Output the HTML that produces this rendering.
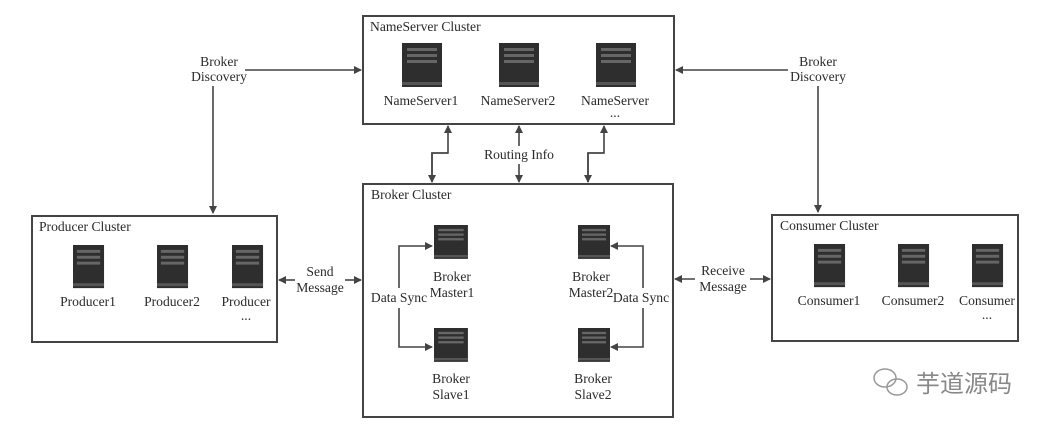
<!DOCTYPE html>
<html><head><meta charset="utf-8"><style>
html,body{margin:0;padding:0;background:#fff;}
svg{display:block;}
text{font-family:"Liberation Serif",serif;font-size:13.6px;fill:#2a2a2a;}
</style></head><body>
<svg width="1055" height="432" viewBox="0 0 1055 432" xmlns="http://www.w3.org/2000/svg">
<defs>
<marker id="a" markerWidth="8" markerHeight="8" refX="7" refY="4" orient="auto" markerUnits="userSpaceOnUse"><path d="M0,0 L8,4 L0,8 z" fill="#444"/></marker>
<g id="srv">
<rect x="0" y="0" width="32" height="44" fill="#2e2e2e"/>
<rect x="4" y="5" width="24" height="3" fill="#666"/>
<rect x="4" y="11" width="24" height="3" fill="#666"/>
<rect x="4" y="17" width="24" height="3" fill="#666"/>
<rect x="0" y="39" width="32" height="3" fill="#555"/>
</g>
</defs>
<rect width="1055" height="432" fill="#fff"/>
<g fill="none" stroke="#444" stroke-width="2">
<rect x="363" y="16" width="311" height="108"/>
<rect x="363" y="184" width="310" height="233"/>
<rect x="32" y="216" width="245" height="126"/>
<rect x="772" y="215" width="246" height="126"/>
</g>
<g stroke="#444" stroke-width="1.6" fill="none">
<path d="M245,70 H361" marker-end="url(#a)"/>
<path d="M213,86 V213" marker-end="url(#a)"/>
<path d="M788,70 H676" marker-end="url(#a)"/>
<path d="M818,86 V212" marker-end="url(#a)"/>
<path d="M432,182 V153 H448 V126" marker-end="url(#a)"/>
<path d="M448,153 H432 V182" marker-end="url(#a)"/>
<path d="M519,146 V126" marker-end="url(#a)"/>
<path d="M519,164 V182" marker-end="url(#a)"/>
<path d="M588,182 V153 H604 V126" marker-end="url(#a)"/>
<path d="M604,153 H588 V182" marker-end="url(#a)"/>
<path d="M295,280 H279" marker-end="url(#a)"/>
<path d="M345,280 H361" marker-end="url(#a)"/>
<path d="M695,279 H675" marker-end="url(#a)"/>
<path d="M750,279 H770" marker-end="url(#a)"/>
<path d="M399,288 V246 H432" marker-end="url(#a)"/>
<path d="M399,308 V347 H432" marker-end="url(#a)"/>
<path d="M643,288 V246 H611" marker-end="url(#a)"/>
<path d="M643,308 V347 H611" marker-end="url(#a)"/>
</g>
<use href="#srv" transform="translate(402,43) scale(1.25,1)"/>
<use href="#srv" transform="translate(499,43) scale(1.25,1)"/>
<use href="#srv" transform="translate(596,43) scale(1.25,1)"/>
<use href="#srv" transform="translate(434,225) scale(1.06,0.77)"/>
<use href="#srv" transform="translate(434,328) scale(1.06,0.77)"/>
<use href="#srv" transform="translate(578,225) scale(1.0,0.77)"/>
<use href="#srv" transform="translate(578,328) scale(1.0,0.77)"/>
<use href="#srv" transform="translate(73,245) scale(0.97,0.98)"/>
<use href="#srv" transform="translate(157,245) scale(0.97,0.98)"/>
<use href="#srv" transform="translate(232,245) scale(0.97,0.98)"/>
<use href="#srv" transform="translate(814,244) scale(0.97,0.98)"/>
<use href="#srv" transform="translate(898,244) scale(0.97,0.98)"/>
<use href="#srv" transform="translate(972,244) scale(0.97,0.98)"/>
<text x="370" y="31">NameServer Cluster</text>
<text x="421" y="105" text-anchor="middle">NameServer1</text>
<text x="518" y="105" text-anchor="middle">NameServer2</text>
<text x="615" y="105" text-anchor="middle">NameServer</text>
<text x="615" y="117" text-anchor="middle">...</text>
<text x="519" y="159" text-anchor="middle">Routing Info</text>
<text x="371" y="199">Broker Cluster</text>
<text x="452" y="281" text-anchor="middle">Broker</text>
<text x="452" y="297" text-anchor="middle">Master1</text>
<text x="451" y="383" text-anchor="middle">Broker</text>
<text x="451" y="399" text-anchor="middle">Slave1</text>
<text x="591" y="281" text-anchor="middle">Broker</text>
<text x="591" y="297" text-anchor="middle">Master2</text>
<text x="593" y="383" text-anchor="middle">Broker</text>
<text x="593" y="399" text-anchor="middle">Slave2</text>
<text x="399" y="302" text-anchor="middle">Data Sync</text>
<text x="641" y="302" text-anchor="middle">Data Sync</text>
<text x="39" y="231">Producer Cluster</text>
<text x="88" y="306" text-anchor="middle">Producer1</text>
<text x="172" y="306" text-anchor="middle">Producer2</text>
<text x="246" y="306" text-anchor="middle">Producer</text>
<text x="246" y="320" text-anchor="middle">...</text>
<text x="780" y="230">Consumer Cluster</text>
<text x="829" y="305" text-anchor="middle">Consumer1</text>
<text x="913" y="305" text-anchor="middle">Consumer2</text>
<text x="987" y="305" text-anchor="middle">Consumer</text>
<text x="987" y="319" text-anchor="middle">...</text>
<text x="320" y="276" text-anchor="middle">Send</text>
<text x="320" y="292" text-anchor="middle">Message</text>
<text x="723" y="275" text-anchor="middle">Receive</text>
<text x="723" y="291" text-anchor="middle">Message</text>
<text x="219" y="66" text-anchor="middle">Broker</text>
<text x="219" y="81" text-anchor="middle">Discovery</text>
<text x="818" y="66" text-anchor="middle">Broker</text>
<text x="818" y="81" text-anchor="middle">Discovery</text>
<g stroke="#999" fill="none" stroke-width="1.5">
<ellipse cx="885" cy="378" rx="11" ry="9"/>
<ellipse cx="897" cy="387" rx="10" ry="8"/>
</g>
<text x="916" y="392" style="font-family:'Noto Sans CJK SC',sans-serif;font-size:24px;fill:#888;">芋道源码</text>
</svg>
</body></html>
